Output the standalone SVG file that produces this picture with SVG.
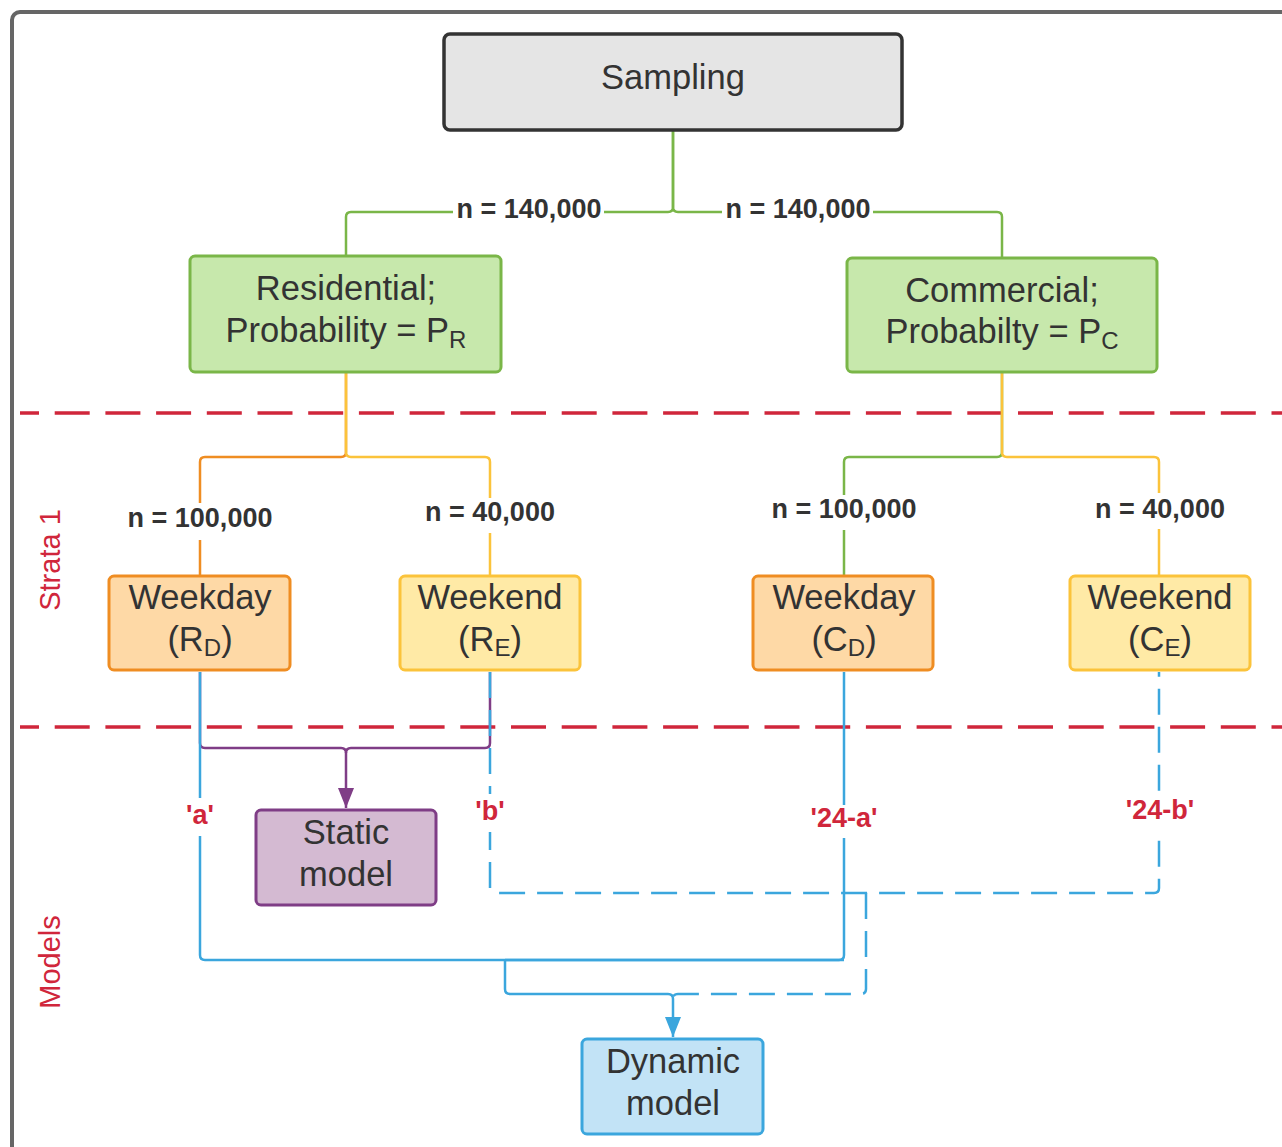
<svg xmlns="http://www.w3.org/2000/svg" width="1282" height="1147" viewBox="0 0 1282 1147">
<style>
.node text{font-family:"Liberation Sans",Arial,sans-serif;font-size:34.5px;fill:#333;text-anchor:middle}
.lbl{font-family:"Liberation Sans",Arial,sans-serif;font-size:27px;font-weight:bold;fill:#333;text-anchor:middle}
.red{fill:#d0263b}
.side{font-family:"Liberation Sans",Arial,sans-serif;font-size:29px;fill:#d0263b;text-anchor:middle}
.c{fill:none;stroke-width:2.5}
.g{stroke:#7ab648}.o{stroke:#ef8d22}.y{stroke:#fbc33b}.p{stroke:#7f3d86}.b{stroke:#3ba6dd}
.d{stroke-dasharray:26 12}
.sep{stroke:#d0263b;stroke-width:3.5;stroke-dasharray:35 15.7;stroke-dashoffset:16;fill:none}
.bg{fill:#fff}
</style>
<defs>
<marker id="ap" markerUnits="userSpaceOnUse" markerWidth="16" markerHeight="20" refX="8" refY="20" orient="0" viewBox="0 0 16 20"><path d="M0,0 L16,0 L8,20 z" fill="#7f3d86"/></marker>
<marker id="ab" markerUnits="userSpaceOnUse" markerWidth="16" markerHeight="20" refX="8" refY="20" orient="0" viewBox="0 0 16 20"><path d="M0,0 L16,0 L8,20 z" fill="#3ba6dd"/></marker>
</defs>
<rect x="0" y="0" width="1282" height="1147" fill="#fff"/>
<rect x="12" y="12" width="1400" height="1300" rx="8" fill="none" stroke="#666" stroke-width="4"/>

<g id="separators">
<line class="sep" x1="20" y1="413" x2="1282" y2="413"/>
<line class="sep" x1="20" y1="727" x2="1282" y2="727"/>
</g>
<g id="band-labels">
<text class="side" transform="translate(60,560) rotate(-90)">Strata 1</text>
<text class="side" transform="translate(60,962) rotate(-90)">Models</text>
</g>

<g id="connectors">
<path class="c g" d="M673,131 V207 Q673,212 668,212 H351 Q346,212 346,217 V256"/>
<path class="c g" d="M673,131 V207 Q673,212 678,212 H997 Q1002,212 1002,217 V258"/>
<path class="c o" d="M346,372 V452 Q346,457 341,457 H205 Q200,457 200,462 V576"/>
<path class="c y" d="M346,372 V452 Q346,457 351,457 H485 Q490,457 490,462 V576"/>
<path class="c g" d="M1002,372 V452 Q1002,457 997,457 H849 Q844,457 844,462 V576"/>
<path class="c y" d="M1002,372 V452 Q1002,457 1007,457 H1154 Q1159,457 1159,462 V576"/>
<path class="c p" d="M200,672 V743 Q200,748 205,748 H341 Q346,748 346,753 V808" marker-end="url(#ap)"/>
<path class="c p" d="M490,672 V743 Q490,748 485,748 H351 Q346,748 346,753"/>
<path class="c b" d="M200,672 V955 Q200,960 205,960 H844"/>
<path class="c b" d="M844,672 V955 Q844,960 839,960 H505"/>
<path class="c b" d="M505,960 V989 Q505,994 510,994 H668 Q673,994 673,999 V1037" marker-end="url(#ab)"/>
<path class="c b d" d="M490,672 V888 Q490,893 495,893 H1154 Q1159,893 1159,888 V672"/>
<path class="c b d" d="M866,893 V989 Q866,994 861,994 H678 Q673,994 673,999"/>

<rect class="bg" x="453" y="197" width="151" height="26"/>
<text class="lbl" x="529" y="218">n = 140,000</text>
<rect class="bg" x="722" y="197" width="151" height="26"/>
<text class="lbl" x="798" y="218">n = 140,000</text>
<rect class="bg" x="125" y="503" width="150" height="37"/>
<text class="lbl" x="200" y="527">n = 100,000</text>
<rect class="bg" x="423" y="498" width="134" height="35"/>
<text class="lbl" x="490" y="521">n = 40,000</text>
<rect class="bg" x="769" y="495" width="150" height="35"/>
<text class="lbl" x="844" y="518">n = 100,000</text>
<rect class="bg" x="1093" y="493" width="134" height="36"/>
<text class="lbl" x="1160" y="518">n = 40,000</text>
<rect class="bg" x="183" y="798" width="34" height="38"/>
<text class="lbl red" x="200" y="824">'a'</text>
<rect class="bg" x="473" y="794" width="34" height="38"/>
<text class="lbl red" x="490" y="820">'b'</text>
<rect class="bg" x="808" y="805" width="72" height="33"/>
<text class="lbl red" x="844" y="827">'24-a'</text>
<rect class="bg" x="1124" y="794" width="72" height="44"/>
<text class="lbl red" x="1160" y="819">'24-b'</text>
</g>

<g id="sampling" class="node">
<rect x="444" y="34" width="458" height="96" rx="6" fill="#e5e5e5" stroke="#333" stroke-width="3.5"/>
<text x="673" y="89">Sampling</text>
</g>
<g id="residential" class="node">
<rect x="190" y="256" width="311" height="116" rx="5" fill="#c7e8ac" stroke="#7ab648" stroke-width="3"/>
<text x="346" y="300">Residential;</text>
<text x="346" y="342">Probability = P<tspan font-size="24" dy="6">R</tspan></text>
</g>
<g id="commercial" class="node">
<rect x="847" y="258" width="310" height="114" rx="5" fill="#c7e8ac" stroke="#7ab648" stroke-width="3"/>
<text x="1002" y="302">Commercial;</text>
<text x="1002" y="343">Probabilty = P<tspan font-size="24" dy="6">C</tspan></text>
</g>
<g id="weekday-r" class="node">
<rect x="109" y="576" width="181" height="94" rx="5" fill="#fed9a6" stroke="#ef8d22" stroke-width="3"/>
<text x="200" y="609">Weekday</text>
<text x="200" y="651">(R<tspan font-size="24" dy="5">D</tspan><tspan dy="-5">)</tspan></text>
</g>
<g id="weekend-r" class="node">
<rect x="400" y="576" width="180" height="94" rx="5" fill="#ffeaa6" stroke="#fbc33b" stroke-width="3"/>
<text x="490" y="609">Weekend</text>
<text x="490" y="651">(R<tspan font-size="24" dy="5">E</tspan><tspan dy="-5">)</tspan></text>
</g>
<g id="weekday-c" class="node">
<rect x="753" y="576" width="180" height="94" rx="5" fill="#fed9a6" stroke="#ef8d22" stroke-width="3"/>
<text x="844" y="609">Weekday</text>
<text x="844" y="651">(C<tspan font-size="24" dy="5">D</tspan><tspan dy="-5">)</tspan></text>
</g>
<g id="weekend-c" class="node">
<rect x="1070" y="576" width="180" height="94" rx="5" fill="#ffeaa6" stroke="#fbc33b" stroke-width="3"/>
<text x="1160" y="609">Weekend</text>
<text x="1160" y="651">(C<tspan font-size="24" dy="5">E</tspan><tspan dy="-5">)</tspan></text>
</g>
<g id="static-model" class="node">
<rect x="256" y="810" width="180" height="95" rx="5" fill="#d4bad2" stroke="#7f3d86" stroke-width="3"/>
<text x="346" y="844">Static</text>
<text x="346" y="886">model</text>
</g>
<g id="dynamic-model" class="node">
<rect x="582" y="1039" width="181" height="95" rx="5" fill="#c2e3f6" stroke="#3ba6dd" stroke-width="3"/>
<text x="673" y="1073">Dynamic</text>
<text x="673" y="1115">model</text>
</g>
</svg>
